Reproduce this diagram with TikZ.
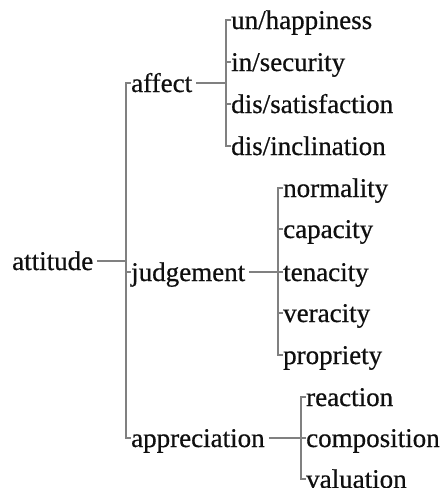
\documentclass[tikz,border=0pt]{standalone}
\usepackage{fontspec}
\setmainfont{Liberation Serif}
\newfontfamily\reffont{Liberation Serif}[FakeBold=0.6]
\definecolor{linegray}{RGB}{128,128,128}
\definecolor{textblack}{RGB}{15,15,15}
\begin{document}
\begin{tikzpicture}[x=1pt,y=-1pt,
  lbl/.style={anchor=base west, inner sep=0pt, font=\reffont\fontsize{27}{32}\selectfont, text=textblack},
  br/.style={draw=linegray, line width=1.4pt}]
\useasboundingbox (0,0) rectangle (443,488);
\node[lbl] (att) at (12,270) {attitude};
\node[lbl] (aff) at (131,92) {affect};
\node[lbl] (jud) at (131,281) {judgement};
\node[lbl] (app) at (131,447) {appreciation};
\node[lbl] (a1) at (231,29) {un/happiness};
\node[lbl] (a2) at (231,71) {in/security};
\node[lbl] (a3) at (231,113) {dis/satisfaction};
\node[lbl] (a4) at (231,155) {dis/inclination};
\node[lbl] (j1) at (283,197) {normality};
\node[lbl] (j2) at (283,238) {capacity};
\node[lbl] (j3) at (283,281) {tenacity};
\node[lbl] (j4) at (283,322) {veracity};
\node[lbl] (j5) at (283,364) {propriety};
\node[lbl] (p1) at (306,406) {reaction};
\node[lbl] (p2) at (306,447) {composition};
\node[lbl] (p3) at (306,488) {valuation};
\foreach \n in {att,aff,jud,app,a1,a2,a3,a4,j1,j2,j3,j4,j5,p1,p2,p3}{
  \coordinate (\n-t) at ([yshift=9pt]\n.base west);
  \coordinate (\n-w) at ([xshift=-5pt,yshift=9pt]\n.base west);
  \coordinate (\n-e) at ([xshift=4pt,yshift=9pt]\n.base east);
}
% attitude group
\draw[br] (aff-t) -- (aff-w) -- (app-w) -- (app-t);
\draw[br] (jud-t) -- (jud-w);
\draw[br] (att-e) -- (att-e -| aff-w);
% affect group
\draw[br] (a1-t) -- (a1-w) -- (a4-w) -- (a4-t);
\draw[br] (a2-t) -- (a2-w);
\draw[br] (a3-t) -- (a3-w);
\draw[br] (aff-e) -- (aff-e -| a1-w);
% judgement group
\draw[br] (j1-t) -- (j1-w) -- (j5-w) -- (j5-t);
\draw[br] (j2-t) -- (j2-w);
\draw[br] (j3-t) -- (j3-w);
\draw[br] (j4-t) -- (j4-w);
\draw[br] (jud-e) -- (jud-e -| j1-w);
% appreciation group
\draw[br] (p1-t) -- (p1-w) -- (p3-w) -- (p3-t);
\draw[br] (p2-t) -- (p2-w);
\draw[br] (app-e) -- (app-e -| p1-w);
\end{tikzpicture}
\end{document}
